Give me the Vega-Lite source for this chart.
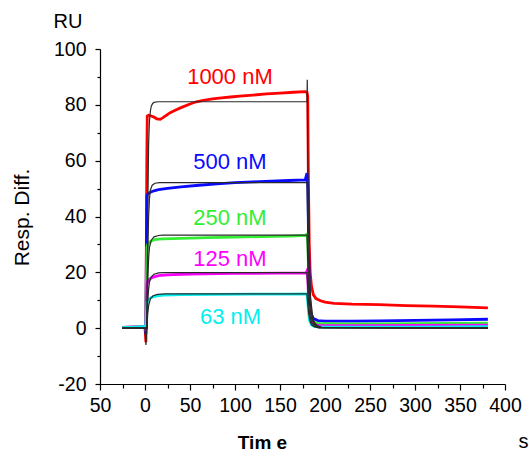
{
  "$schema": "https://vega.github.io/schema/vega-lite/v6.json",
  "width": 405,
  "height": 335,
  "autosize": {"type": "none"},
  "padding": {"left": 100, "top": 49, "right": 24, "bottom": 72},
  "background": "white",
  "config": {
    "view": {"stroke": null},
    "axis": {"grid": false, "labelFont": "Liberation Sans", "titleFont": "Liberation Sans", "labelColor": "#000", "titleColor": "#000", "domainColor": "#000", "tickColor": "#000", "domainWidth": 1.2, "tickWidth": 1.2}
  },
  "datasets": {
    "meas": [
      {"s":"1000 nM","t":-25,"v":0.2},{"s":"1000 nM","t":-15,"v":0.3},{"s":"1000 nM","t":-5,"v":0.3},{"s":"1000 nM","t":0,"v":0.4},{"s":"1000 nM","t":1,"v":-5},{"s":"1000 nM","t":1.5,"v":30},{"s":"1000 nM","t":2,"v":60},{"s":"1000 nM","t":2.5,"v":76},{"s":"1000 nM","t":4,"v":76.3},{"s":"1000 nM","t":7,"v":76},{"s":"1000 nM","t":10,"v":75.6},{"s":"1000 nM","t":13,"v":75},{"s":"1000 nM","t":17,"v":74.8},{"s":"1000 nM","t":20,"v":75.4},{"s":"1000 nM","t":24,"v":76.3},{"s":"1000 nM","t":28,"v":77.2},{"s":"1000 nM","t":33,"v":78},{"s":"1000 nM","t":40,"v":79},{"s":"1000 nM","t":50,"v":80.3},{"s":"1000 nM","t":57,"v":81.1},{"s":"1000 nM","t":65,"v":81.6},{"s":"1000 nM","t":75,"v":82.1},{"s":"1000 nM","t":85,"v":82.5},{"s":"1000 nM","t":95,"v":82.8},{"s":"1000 nM","t":105,"v":83.1},{"s":"1000 nM","t":120,"v":83.5},{"s":"1000 nM","t":135,"v":83.9},{"s":"1000 nM","t":150,"v":84.2},{"s":"1000 nM","t":165,"v":84.5},{"s":"1000 nM","t":178,"v":84.7},{"s":"1000 nM","t":180,"v":84.5},{"s":"1000 nM","t":180.8,"v":83},{"s":"1000 nM","t":181.5,"v":55},{"s":"1000 nM","t":182.5,"v":30},{"s":"1000 nM","t":183.5,"v":20},{"s":"1000 nM","t":185,"v":15},{"s":"1000 nM","t":187,"v":12},{"s":"1000 nM","t":190,"v":10.6},{"s":"1000 nM","t":195,"v":9.8},{"s":"1000 nM","t":200,"v":9.3},{"s":"1000 nM","t":210,"v":8.9},{"s":"1000 nM","t":230,"v":8.6},{"s":"1000 nM","t":260,"v":8.4},{"s":"1000 nM","t":290,"v":8.1},{"s":"1000 nM","t":320,"v":7.9},{"s":"1000 nM","t":350,"v":7.6},{"s":"1000 nM","t":381,"v":7.3},

      {"s":"500 nM","t":-25,"v":0.3},{"s":"500 nM","t":-10,"v":0.4},{"s":"500 nM","t":0,"v":0.5},{"s":"500 nM","t":1,"v":-2},{"s":"500 nM","t":1.5,"v":25},{"s":"500 nM","t":2.2,"v":47.5},{"s":"500 nM","t":3,"v":48},{"s":"500 nM","t":6,"v":48.7},{"s":"500 nM","t":10,"v":49.2},{"s":"500 nM","t":15,"v":49.6},{"s":"500 nM","t":25,"v":50.1},{"s":"500 nM","t":40,"v":50.6},{"s":"500 nM","t":60,"v":51.2},{"s":"500 nM","t":80,"v":51.7},{"s":"500 nM","t":100,"v":52.1},{"s":"500 nM","t":120,"v":52.4},{"s":"500 nM","t":140,"v":52.7},{"s":"500 nM","t":160,"v":52.9},{"s":"500 nM","t":178,"v":53.1},{"s":"500 nM","t":180,"v":55.5},{"s":"500 nM","t":181,"v":50},{"s":"500 nM","t":182,"v":25},{"s":"500 nM","t":183,"v":10},{"s":"500 nM","t":184.5,"v":5},{"s":"500 nM","t":187,"v":3.5},{"s":"500 nM","t":192,"v":2.7},{"s":"500 nM","t":200,"v":2.5},{"s":"500 nM","t":230,"v":2.5},{"s":"500 nM","t":260,"v":2.6},{"s":"500 nM","t":300,"v":2.8},{"s":"500 nM","t":340,"v":3},{"s":"500 nM","t":381,"v":3.2},

      {"s":"250 nM","t":-25,"v":0.3},{"s":"250 nM","t":0,"v":0.5},{"s":"250 nM","t":1,"v":-1},{"s":"250 nM","t":1.5,"v":15},{"s":"250 nM","t":2.2,"v":29},{"s":"250 nM","t":3,"v":30},{"s":"250 nM","t":5,"v":30.8},{"s":"250 nM","t":8,"v":31.4},{"s":"250 nM","t":12,"v":31.8},{"s":"250 nM","t":20,"v":32},{"s":"250 nM","t":40,"v":32.2},{"s":"250 nM","t":70,"v":32.4},{"s":"250 nM","t":100,"v":32.6},{"s":"250 nM","t":130,"v":32.8},{"s":"250 nM","t":160,"v":33},{"s":"250 nM","t":179,"v":33.2},{"s":"250 nM","t":180,"v":34},{"s":"250 nM","t":181,"v":30},{"s":"250 nM","t":182,"v":15},{"s":"250 nM","t":183,"v":7},{"s":"250 nM","t":184.5,"v":3.5},{"s":"250 nM","t":187,"v":2.2},{"s":"250 nM","t":192,"v":1.7},{"s":"250 nM","t":220,"v":1.5},{"s":"250 nM","t":260,"v":1.5},{"s":"250 nM","t":300,"v":1.6},{"s":"250 nM","t":340,"v":1.7},{"s":"250 nM","t":381,"v":1.8},

      {"s":"125 nM","t":-25,"v":0.3},{"s":"125 nM","t":0,"v":0.5},{"s":"125 nM","t":1,"v":-1},{"s":"125 nM","t":1.5,"v":10},{"s":"125 nM","t":2.2,"v":16},{"s":"125 nM","t":3,"v":16.8},{"s":"125 nM","t":6,"v":17.8},{"s":"125 nM","t":10,"v":18.4},{"s":"125 nM","t":15,"v":18.8},{"s":"125 nM","t":25,"v":19.1},{"s":"125 nM","t":50,"v":19.4},{"s":"125 nM","t":100,"v":19.6},{"s":"125 nM","t":150,"v":19.7},{"s":"125 nM","t":179,"v":19.8},{"s":"125 nM","t":180,"v":20.5},{"s":"125 nM","t":181,"v":17},{"s":"125 nM","t":182,"v":9},{"s":"125 nM","t":183,"v":4},{"s":"125 nM","t":185,"v":2},{"s":"125 nM","t":188,"v":1.2},{"s":"125 nM","t":195,"v":0.9},{"s":"125 nM","t":250,"v":0.9},{"s":"125 nM","t":300,"v":1},{"s":"125 nM","t":381,"v":1.1},

      {"s":"63 nM","t":-25,"v":0.3},{"s":"63 nM","t":-10,"v":0.4},{"s":"63 nM","t":0,"v":0.6},{"s":"63 nM","t":1,"v":0.5},{"s":"63 nM","t":1.7,"v":6},{"s":"63 nM","t":2.5,"v":9.5},{"s":"63 nM","t":4,"v":10.4},{"s":"63 nM","t":7,"v":11},{"s":"63 nM","t":12,"v":11.5},{"s":"63 nM","t":20,"v":11.8},{"s":"63 nM","t":40,"v":12},{"s":"63 nM","t":80,"v":12.1},{"s":"63 nM","t":120,"v":12.2},{"s":"63 nM","t":160,"v":12.2},{"s":"63 nM","t":179,"v":12.3},{"s":"63 nM","t":180,"v":12},{"s":"63 nM","t":181,"v":9},{"s":"63 nM","t":182,"v":5},{"s":"63 nM","t":183,"v":2.5},{"s":"63 nM","t":185,"v":1.2},{"s":"63 nM","t":188,"v":0.6},{"s":"63 nM","t":195,"v":0.4},{"s":"63 nM","t":250,"v":0.4},{"s":"63 nM","t":300,"v":0.4},{"s":"63 nM","t":381,"v":0.5}
    ],
    "fit": [
      {"s":"1000 nM","t":-25,"v":0},{"s":"1000 nM","t":0,"v":0},{"s":"1000 nM","t":1,"v":-6},{"s":"1000 nM","t":2,"v":0},{"s":"1000 nM","t":3,"v":40},{"s":"1000 nM","t":4,"v":66},{"s":"1000 nM","t":5,"v":74.5},{"s":"1000 nM","t":6,"v":77.8},{"s":"1000 nM","t":7,"v":79.5},{"s":"1000 nM","t":8.5,"v":80.5},{"s":"1000 nM","t":10,"v":80.9},{"s":"1000 nM","t":14,"v":81.1},{"s":"1000 nM","t":180,"v":81.1},{"s":"1000 nM","t":180.3,"v":89},{"s":"1000 nM","t":181,"v":55},{"s":"1000 nM","t":182,"v":32},{"s":"1000 nM","t":183,"v":19},{"s":"1000 nM","t":184,"v":11},{"s":"1000 nM","t":186,"v":5},{"s":"1000 nM","t":188,"v":2.2},{"s":"1000 nM","t":191,"v":0.9},{"s":"1000 nM","t":196,"v":0.3},{"s":"1000 nM","t":381,"v":0},

      {"s":"500 nM","t":-25,"v":0},{"s":"500 nM","t":2.2,"v":0},{"s":"500 nM","t":3,"v":25},{"s":"500 nM","t":4,"v":40},{"s":"500 nM","t":5,"v":46.5},{"s":"500 nM","t":6,"v":49.5},{"s":"500 nM","t":8,"v":51.2},{"s":"500 nM","t":11,"v":51.9},{"s":"500 nM","t":16,"v":52.1},{"s":"500 nM","t":180,"v":52.1},{"s":"500 nM","t":181,"v":34},{"s":"500 nM","t":182,"v":20},{"s":"500 nM","t":183,"v":12},{"s":"500 nM","t":184.5,"v":6},{"s":"500 nM","t":187,"v":2.5},{"s":"500 nM","t":191,"v":0.8},{"s":"500 nM","t":197,"v":0.2},{"s":"500 nM","t":381,"v":0},

      {"s":"250 nM","t":-25,"v":0},{"s":"250 nM","t":2.2,"v":0},{"s":"250 nM","t":3,"v":16},{"s":"250 nM","t":4,"v":25},{"s":"250 nM","t":5,"v":29},{"s":"250 nM","t":7,"v":31.5},{"s":"250 nM","t":10,"v":32.7},{"s":"250 nM","t":15,"v":33.2},{"s":"250 nM","t":20,"v":33.3},{"s":"250 nM","t":180,"v":33.3},{"s":"250 nM","t":181,"v":22},{"s":"250 nM","t":182,"v":13},{"s":"250 nM","t":183,"v":8},{"s":"250 nM","t":185,"v":3.5},{"s":"250 nM","t":188,"v":1.3},{"s":"250 nM","t":193,"v":0.3},{"s":"250 nM","t":381,"v":0},

      {"s":"125 nM","t":-25,"v":0},{"s":"125 nM","t":2.2,"v":0},{"s":"125 nM","t":3,"v":9},{"s":"125 nM","t":4,"v":14},{"s":"125 nM","t":5,"v":16.5},{"s":"125 nM","t":7,"v":18.4},{"s":"125 nM","t":10,"v":19.3},{"s":"125 nM","t":15,"v":19.8},{"s":"125 nM","t":22,"v":19.9},{"s":"125 nM","t":180,"v":19.9},{"s":"125 nM","t":181,"v":13},{"s":"125 nM","t":182,"v":8},{"s":"125 nM","t":183,"v":5},{"s":"125 nM","t":185,"v":2},{"s":"125 nM","t":188,"v":0.8},{"s":"125 nM","t":193,"v":0.2},{"s":"125 nM","t":381,"v":0},

      {"s":"63 nM","t":-25,"v":0},{"s":"63 nM","t":2.2,"v":0},{"s":"63 nM","t":3,"v":5},{"s":"63 nM","t":4,"v":8},{"s":"63 nM","t":6,"v":10.5},{"s":"63 nM","t":9,"v":11.6},{"s":"63 nM","t":14,"v":12.1},{"s":"63 nM","t":22,"v":12.3},{"s":"63 nM","t":180,"v":12.3},{"s":"63 nM","t":181,"v":8},{"s":"63 nM","t":182,"v":5},{"s":"63 nM","t":183,"v":3},{"s":"63 nM","t":185,"v":1.2},{"s":"63 nM","t":188,"v":0.5},{"s":"63 nM","t":193,"v":0.1},{"s":"63 nM","t":381,"v":0}
    ],
    "lab": [
      {"s":"1000 nM","t":94.4,"v":90,"label":"1000 nM"},
      {"s":"500 nM","t":94.4,"v":59.4,"label":"500 nM"},
      {"s":"250 nM","t":94.4,"v":39.5,"label":"250 nM"},
      {"s":"125 nM","t":94.4,"v":24.8,"label":"125 nM"},
      {"s":"63 nM","t":95,"v":4,"label":"63 nM"}
    ]
  },
  "layer": [
    {
      "data": {"name": "meas"},
      "mark": {"type": "line", "strokeWidth": 2.8},
      "encoding": {
        "x": {"field": "t", "type": "quantitative", "scale": {"domain": [-50, 400], "nice": false, "zero": false},
          "axis": {"values": [-50, 0, 50, 100, 150, 200, 250, 300, 350, 400], "labelExpr": "datum.value == -50 ? '50' : datum.label", "labelFontSize": 19.5, "tickSize": 6, "labelPadding": 6, "labelFlush": false, "labelOverlap": false,
            "title": "Tim e", "titleFontSize": 19, "titleFontWeight": "bold", "titleX": 162, "titleY": 64, "titleAlign": "center", "titleBaseline": "alphabetic"}},
        "y": {"field": "v", "type": "quantitative", "scale": {"domain": [-20, 100], "nice": false, "zero": false},
          "axis": {"values": [-20, 0, 20, 40, 60, 80, 100], "labelExpr": "datum.value == -20 ? '-20' : datum.label", "labelFontSize": 19.5, "tickSize": 5, "labelPadding": 9, "labelFlush": false, "labelOverlap": false,
            "title": "Resp. Diff.", "titleFontSize": 21, "titleFontWeight": "normal", "titleAngle": -90, "titleX": -71.5, "titleY": 168, "titleAlign": "center", "titleBaseline": "alphabetic"}},
        "color": {"field": "s", "type": "nominal", "scale": {"domain": ["1000 nM", "500 nM", "250 nM", "125 nM", "63 nM"], "range": ["#ff0000", "#0a0aff", "#33ee33", "#ff00ff", "#00f0f0"]}, "legend": null}
      }
    },
    {
      "data": {"name": "fit"},
      "mark": {"type": "line", "strokeWidth": 1.2, "color": "#2a2a2a"},
      "encoding": {
        "x": {"field": "t", "type": "quantitative", "axis": null},
        "y": {"field": "v", "type": "quantitative", "axis": null},
        "detail": {"field": "s", "type": "nominal"}
      }
    },
    {
      "data": {"name": "lab"},
      "mark": {"type": "text", "font": "Liberation Sans", "fontSize": 22, "align": "center", "baseline": "middle"},
      "encoding": {
        "x": {"field": "t", "type": "quantitative",
          "axis": {"orient": "bottom", "values": [-25, 25, 75, 125, 175, 225, 275, 325, 375], "labels": false, "domain": false, "ticks": true, "tickSize": 4,
            "title": "s", "titleFontSize": 20, "titleFontWeight": "normal", "titleX": 418, "titleY": 63, "titleAlign": "left", "titleBaseline": "alphabetic"}},
        "y": {"field": "v", "type": "quantitative",
          "axis": {"orient": "left", "values": [-10, 10, 30, 50, 70, 90], "labels": false, "domain": false, "ticks": true, "tickSize": 3,
            "title": "RU", "titleFontSize": 20, "titleFontWeight": "normal", "titleAngle": 0, "titleX": -47, "titleY": -22, "titleAlign": "left", "titleBaseline": "alphabetic"}},
        "text": {"field": "label"},
        "color": {"field": "s", "type": "nominal", "legend": null}
      }
    }
  ],
  "resolve": {"axis": {"x": "independent", "y": "independent"}}
}
